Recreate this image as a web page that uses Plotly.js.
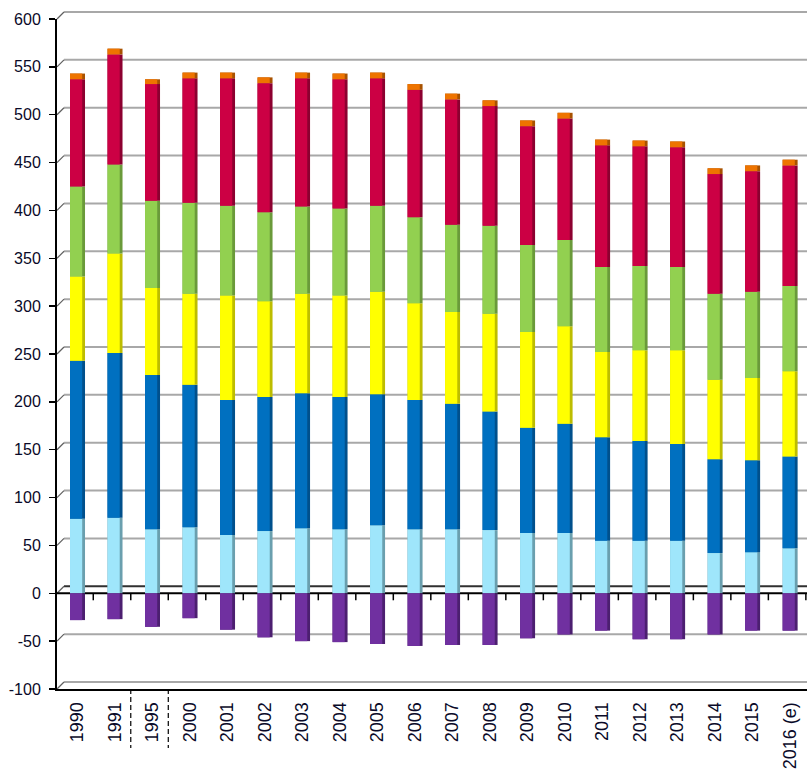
<!DOCTYPE html>
<html><head><meta charset="utf-8">
<script src="https://cdn.plot.ly/plotly-3.0.1.min.js"></script>
<style>body{margin:0;background:#fff}#chart{width:807px;height:770px}</style>
</head><body><div id="chart"></div>
<script>
const categories = ['1990','1991','1995','2000','2001','2002','2003','2004','2005','2006','2007','2008','2009','2010','2011','2012','2013','2014','2015','2016 (e)'];
const seriesLightBlue = [78,79,67,69,61,65,68,67,71,67,67,66,63,63,55,55,55,42,43,47];
const seriesBlue      = [165,172,161,149,141,140,141,138,137,135,131,124,110,114,108,104,101,98,96,96];
const seriesYellow    = [88,104,91,95,109,100,104,106,107,101,96,102,100,102,89,95,98,83,86,89];
const seriesGreen     = [94,93,91,95,94,93,91,91,90,90,91,92,91,90,89,88,87,90,90,89];
const seriesRed       = [112,115,122,130,133,135,134,135,133,133,131,125,124,127,127,125,125,125,126,126];
const seriesOrange    = [6,6,5,6,6,6,6,6,6,6,6,6,6,6,6,6,6,6,6,6];
const seriesPurple    = [-28,-27,-35,-26,-38,-46,-50,-51,-53,-55,-54,-54,-47,-43,-39,-48,-48,-43,-39,-39];
const yTickValues = [-100,-50,0,50,100,150,200,250,300,350,400,450,500,550,600];
const breakAfter = ['1991','1995'];

const W = 807, H = 770, ML = 57, MR = 0, MT = 19, MB = 81;
const plotW = W - ML - MR, plotH = H - MT - MB;
const yMin = -100, yMax = 600;
const xMin = -0.547, xMax = 19.45;
const depth = 7;

const series = [
  {name:'s1', y:seriesLightBlue, front:'#9fe6fb', side:'#6a9fae'},
  {name:'s2', y:seriesBlue,      front:'#0070c0', side:'#00508c'},
  {name:'s3', y:seriesYellow,    front:'#ffff00', side:'#bdbd00'},
  {name:'s4', y:seriesGreen,     front:'#92d050', side:'#6a9a3a'},
  {name:'s5', y:seriesRed,       front:'#cc0044', side:'#8c0030'},
  {name:'s6', y:seriesOrange,    front:'#ee7400', side:'#a85200'},
  {name:'s7', y:seriesPurple,    front:'#7030a0', side:'#4c1f70'}
];

const traces = [];
series.forEach(s => {
  traces.push({type:'bar', x:categories, y:s.y, name:s.name+'side', xaxis:'x', yaxis:'y',
    offset:-0.2, width:0.4, marker:{color:s.side, line:{width:0}}, hoverinfo:'skip', showlegend:false});
});
series.forEach(s => {
  traces.push({type:'bar', x:categories, y:s.y, name:s.name, xaxis:'x2', yaxis:'y2',
    offset:-0.2, width:0.325, marker:{color:s.front, line:{width:0}}, showlegend:false});
});

const toPaperY = v => (v - yMin) / (yMax - yMin);
const dyPaper = depth / plotH;
const dxPaper = depth / plotW;
const shapes = [];
yTickValues.forEach(v => {
  const col = v === 0 ? '#303030' : '#a8a8a8';
  shapes.push({type:'line', layer:'below', xref:'paper', yref:'paper',
    x0:dxPaper, x1:1, y0:toPaperY(v)+dyPaper, y1:toPaperY(v)+dyPaper,
    line:{color:col, width:2}});
  shapes.push({type:'line', layer:'below', xref:'paper', yref:'paper',
    x0:0, x1:dxPaper, y0:toPaperY(v), y1:toPaperY(v)+dyPaper,
    line:{color:'#606060', width:1.2}});
});
shapes.push({type:'line', layer:'below', xref:'paper', yref:'paper', x0:0, x1:1,
  y0:toPaperY(0), y1:toPaperY(0), line:{color:'#000', width:2}});
for (let i = 0; i < categories.length; i++) {
  shapes.push({type:'line', layer:'below', xref:'x', yref:'paper',
    x0:i+0.5-0.08, x1:i+0.5-0.08, y0:toPaperY(0), y1:toPaperY(0) - 7/plotH,
    line:{color:'#000', width:1.5}});
}
breakAfter.forEach(c => {
  const i = categories.indexOf(c);
  shapes.push({type:'line', xref:'x', yref:'paper', x0:i+0.5-0.08, x1:i+0.5-0.08,
    y0:0, y1:-59/plotH, line:{color:'#000', width:1.2, dash:'5px,3px'}});
});

const axisFont = {family:'"Liberation Sans", Arial, sans-serif', color:'#0a0a28'};
const layout = {
  width:W, height:H, margin:{l:ML, r:MR, t:MT, b:MB, pad:0},
  paper_bgcolor:'#fff', plot_bgcolor:'rgba(0,0,0,0)',
  barmode:'relative', bargap:0.6, showlegend:false,
  xaxis:{type:'category', categoryorder:'array', categoryarray:categories, range:[xMin,xMax],
    showgrid:false, zeroline:false, showline:true, linecolor:'#000', linewidth:2,
    ticks:'outside', ticklen:4, tickcolor:'rgba(0,0,0,0)', tickangle:-90,
    tickfont:{family:'"Liberation Sans Narrow", "Liberation Sans", Arial, sans-serif', size:18, color:'#0a0a28'}},
  yaxis:{range:[yMin,yMax], tickvals:yTickValues, ticktext:yTickValues.map(String),
    showgrid:false, zeroline:false, showline:true, linecolor:'#000', linewidth:2,
    ticks:'outside', ticklen:6, tickcolor:'#000', tickwidth:1.5, ticklabelstandoff:5,
    tickfont:Object.assign({size:16}, axisFont)},
  xaxis2:{type:'category', categoryorder:'array', categoryarray:categories, range:[xMin,xMax],
    overlaying:'x', visible:false},
  yaxis2:{range:[yMin,yMax], overlaying:'y', visible:false},
  shapes:shapes
};
Plotly.newPlot('chart', traces, layout, {displayModeBar:false, staticPlot:true});
</script></body></html>
